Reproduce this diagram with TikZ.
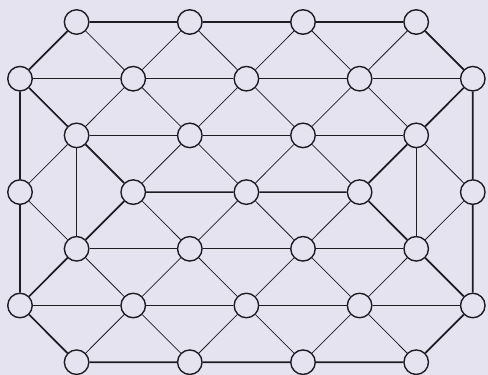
\documentclass[tikz,border=0pt]{standalone}
\definecolor{paper}{RGB}{229,227,240}
\definecolor{ink}{RGB}{30,28,35}
\begin{document}
\begin{tikzpicture}[x=1pt,y=-1pt,
  site/.style={circle,draw=ink,line width=1.4pt,fill=paper,minimum size=24.5pt,inner sep=0pt},
  bond/.style={draw=ink,line width=0.75pt},
  rim/.style={draw=ink,line width=1.7pt,line join=round}]

\fill[paper] (0,0) rectangle (488,375);
\useasboundingbox (0,0) rectangle (488,375);

% Sites (rangs pairs : 4 sites, rangs impairs : 5 sites)
\foreach \r in {0,2,4,6}
  \foreach \j in {1,3,5,7}
    \node[site] (s\j-\r) at (20+56.6*\j,22+56.7*\r) {};
\foreach \r in {1,3,5}
  \foreach \j in {0,2,4,6,8}
    \node[site] (s\j-\r) at (20+56.6*\j,22+56.7*\r) {};

% Diagonales
\foreach \r in {1,3,5}
  \foreach \j in {1,3,5,7} {
    \pgfmathtruncatemacro\up{\r-1}
    \pgfmathtruncatemacro\dn{\r+1}
    \pgfmathtruncatemacro\lf{\j-1}
    \pgfmathtruncatemacro\rt{\j+1}
    \path[bond] (s\lf-\r) -- (s\j-\up) -- (s\rt-\r) -- (s\j-\dn) -- (s\lf-\r);
  }

% Horizontales
\path[bond] (s0-1) -- (s2-1) -- (s4-1) -- (s6-1) -- (s8-1);
\path[bond] (s0-5) -- (s2-5) -- (s4-5) -- (s6-5) -- (s8-5);
\path[bond] (s1-2) -- (s3-2) -- (s5-2) -- (s7-2);
\path[bond] (s1-4) -- (s3-4) -- (s5-4) -- (s7-4);

% Verticales
\path[bond] (s1-2) -- (s1-4);
\path[bond] (s7-2) -- (s7-4);

% Contour
\path[rim] (s1-0) -- (s3-0) -- (s5-0) -- (s7-0) -- (s8-1) -- (s8-3) -- (s8-5)
  -- (s7-6) -- (s5-6) -- (s3-6) -- (s1-6) -- (s0-5) -- (s0-3) -- (s0-1) -- (s1-0);

% Traits interieurs
\path[rim] (s0-1) -- (s1-2) -- (s2-3) -- (s4-3) -- (s6-3) -- (s7-2) -- (s8-1);
\path[rim] (s0-5) -- (s1-4) -- (s2-3);
\path[rim] (s6-3) -- (s7-4) -- (s8-5);

\end{tikzpicture}
\end{document}
